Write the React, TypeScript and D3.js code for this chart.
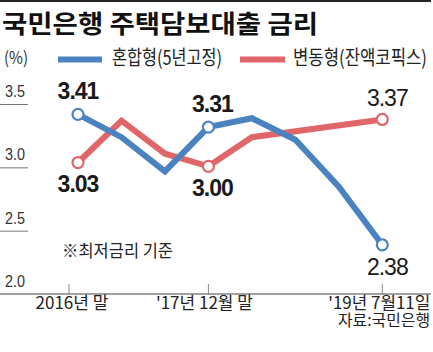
import { useEffect } from "react";
import * as d3 from "d3";

const W = 433;
const H = 352;

// 8 observation points, 2016 year-end .. 2019-07-11
const periods = [0, 1, 2, 3, 4, 5, 6, 7];
const fixedRate = [3.41, 3.23, 2.96, 3.31, 3.38, 3.21, 2.84, 2.38];
const variableRate: (number | null)[] = [3.03, 3.36, 3.1, 3.0, 3.23, null, null, 3.37];

const yTicks = [2.0, 2.5, 3.0, 3.5];
const xTickIdx = [0, 3, 7];
const xTickLabels = ["2016년 말", "'17년 12월 말", "'19년 7월11일"];
const seriesNames = ["혼합형(5년고정)", "변동형(잔액코픽스)"];
const calloutIdx = [0, 3, 7];

const BLUE = "#4a83c0";
const RED = "#e0666a";
const KR = "'Noto Sans CJK KR', 'Liberation Sans', sans-serif";
const NUM = "'Liberation Sans', Arial, sans-serif";

export default function App() {
  useEffect(() => {
    document.body.style.margin = "0";
  }, []);

  const x = d3.scaleLinear().domain([0, 7]).range([78, 382.3]);
  const y = d3.scaleLinear().domain([2, 3.5]).range([293, 103]);

  const line = d3
    .line<[number, number]>()
    .x((d) => x(d[0]))
    .y((d) => y(d[1]));

  const bluePts: [number, number][] = periods.map((p, i) => [p, fixedRate[i]]);
  const redPts: [number, number][] = periods
    .map((p, i) => [p, variableRate[i]] as [number, number | null])
    .filter((d) => d[1] != null) as [number, number][];

  const blueEnds = calloutIdx.map((i) => bluePts[i]);
  const redEnds = calloutIdx.map((i) => redPts.find((d) => d[0] === i)!);

  // label placement: blue above/below, red opposite
  const blueAbove = [true, true, false];
  const labelDx = [0, 4, 5];
  const boldLabel = [true, true, false];

  return (
    <svg
      width={W}
      height={H}
      style={{ position: "absolute", left: 0, top: 0, background: "#fff" }}
    >
      <line x1={0} x2={431} y1={1} y2={1} stroke="#222" strokeWidth={2} />
      <text
        x={2}
        y={33}
        fontFamily={KR}
        fontWeight={700}
        fontSize={25}
        fill="#111"
        textLength={316}
        lengthAdjust="spacingAndGlyphs"
      >
        국민은행 주택담보대출 금리
      </text>

      {/* legend */}
      <text x={4} y={64} fontFamily={KR} fontSize={17} fill="#333" textLength={24} lengthAdjust="spacingAndGlyphs">
        (%)
      </text>
      <line x1={58} x2={102} y1={59.5} y2={59.5} stroke={BLUE} strokeWidth={6} />
      <text x={112} y={65} fontFamily={KR} fontSize={20} fill="#222" textLength={110} lengthAdjust="spacingAndGlyphs">
        {seriesNames[0]}
      </text>
      <line x1={240} x2={285} y1={59.5} y2={59.5} stroke={RED} strokeWidth={6} />
      <text x={293} y={65} fontFamily={KR} fontSize={20} fill="#222" textLength={134} lengthAdjust="spacingAndGlyphs">
        {seriesNames[1]}
      </text>

      {/* y axis: short gridlines under labels */}
      {yTicks.map((t) => (
        <g key={t}>
          {t > 2 && <line x1={0} x2={28} y1={y(t) + 1.5} y2={y(t) + 1.5} stroke="#777" strokeWidth={1} />}
          <text
            x={5}
            y={y(t) - 6}
            fontFamily={NUM}
            fontSize={16}
            fill="#333"
            textLength={20}
            lengthAdjust="spacingAndGlyphs"
          >
            {t.toFixed(1)}
          </text>
        </g>
      ))}

      {/* x axis */}
      <line x1={0} x2={431} y1={294} y2={294} stroke="#444" strokeWidth={1.2} />
      {xTickIdx.map((i, k) => (
        <g key={i}>
          <line x1={x(i) - (k === 0 ? 9 : 0)} x2={x(i) - (k === 0 ? 9 : 0)} y1={284} y2={294} stroke="#888" strokeWidth={1} />
          <text
            x={x(i) + [-6, -4, -3][k]}
            y={309}
            textAnchor="middle"
            fontFamily={KR}
            fontSize={17}
            fill="#222"
            textLength={[73, 97, 102][k]}
            lengthAdjust="spacingAndGlyphs"
          >
            {xTickLabels[k]}
          </text>
        </g>
      ))}

      <text x={62} y={257} fontFamily={KR} fontSize={17} fill="#222" textLength={111} lengthAdjust="spacingAndGlyphs">
        ※최저금리 기준
      </text>
      <text x={430} y={326} textAnchor="end" fontFamily={KR} fontSize={16} fill="#222" textLength={92} lengthAdjust="spacingAndGlyphs">
        자료:국민은행
      </text>

      {/* series */}
      <path d={line(redPts) ?? ""} fill="none" stroke={RED} strokeWidth={6} />
      <path d={line(bluePts) ?? ""} fill="none" stroke={BLUE} strokeWidth={6} />

      {redEnds.map((d) => (
        <circle key={"r" + d[0]} cx={x(d[0])} cy={y(d[1])} r={5.5} fill="#fff" stroke={RED} strokeWidth={2.2} />
      ))}
      {blueEnds.map((d) => (
        <circle key={"b" + d[0]} cx={x(d[0])} cy={y(d[1])} r={5.5} fill="#fff" stroke={BLUE} strokeWidth={2.2} />
      ))}

      {/* value callouts */}
      {calloutIdx.map((i, k) => {
        const b = blueEnds[k];
        const r = redEnds[k];
        const up = blueAbove[k];
        const common = {
          textAnchor: "middle" as const,
          fontFamily: NUM,
          fontSize: 23,
          fontWeight: boldLabel[k] ? 700 : 400,
          letterSpacing: -1,
          fill: "#1a1a1a",
        };
        return (
          <g key={"l" + i}>
            <text x={x(b[0]) + labelDx[k]} y={up ? y(b[1]) - 15 : y(b[1]) + 30} {...common}>
              {b[1].toFixed(2)}
            </text>
            <text x={x(r[0]) + labelDx[k]} y={up ? y(r[1]) + 29.5 : y(r[1]) - 13} {...common}>
              {r[1].toFixed(2)}
            </text>
          </g>
        );
      })}
    </svg>
  );
}
